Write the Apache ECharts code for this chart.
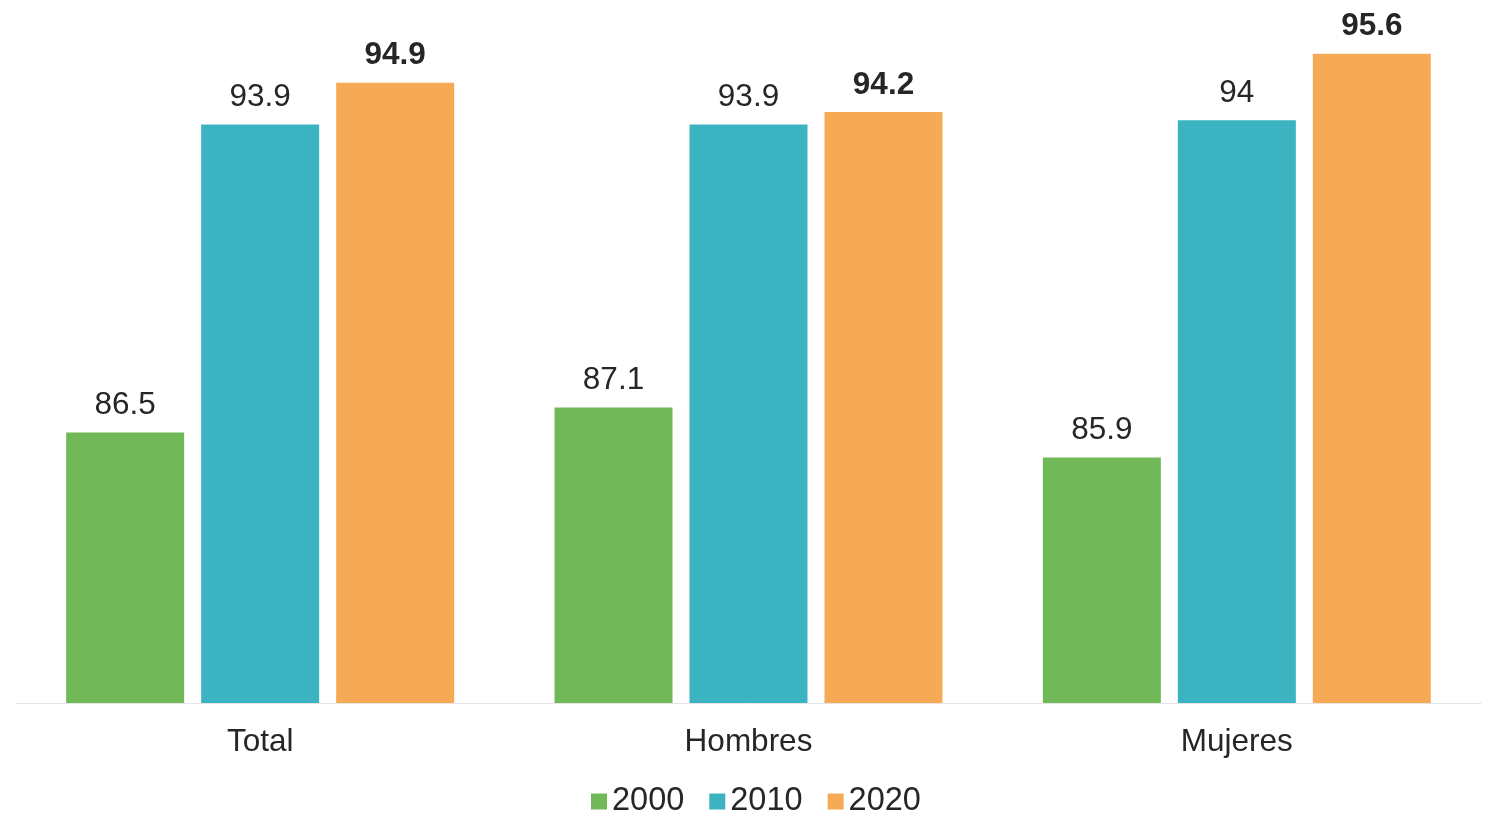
<!DOCTYPE html>
<html><head><meta charset="utf-8">
<script src="https://cdn.jsdelivr.net/npm/echarts@6/dist/echarts.min.js"></script>
<style>html,body{margin:0;padding:0;background:#fff}#c{width:1485px;height:818px}</style>
</head><body><div id="c"></div>
<script>
const categories = ['Total', 'Hombres', 'Mujeres'];
const seriesNames = ['2000', '2010', '2020'];
const values2000 = [86.5, 87.1, 85.9];
const values2010 = [93.9, 93.9, 94];
const values2020 = [94.9, 94.2, 95.6];
const colors = ['#71b858', '#3bb3c1', '#f6aa55'];

const font = 'Liberation Sans, Arial, sans-serif';
function mk(name, data, color, bold) {
  return {
    name, type: 'bar', data, barWidth: 118, barGap: '14.4%',
    itemStyle: { color },
    label: { show: true, position: 'top', distance: 11, color: '#262626',
      fontFamily: font, fontSize: 31.5, fontWeight: bold ? 'bold' : 'normal' }
  };
}
const chart = echarts.init(document.getElementById('c'));
chart.setOption({
  animation: false,
  grid: { left: 16, right: 4, top: 37, bottom: 115, containLabel: false },
  legend: { bottom: 0, left: 591, padding: 0, itemWidth: 16, itemHeight: 16, itemGap: 25,
    icon: 'rect', textStyle: { fontFamily: font, fontSize: 32.5, color: '#262626' },
    data: seriesNames },
  xAxis: { type: 'category', data: categories,
    axisLine: { lineStyle: { color: '#e4e4e4', width: 1 } }, axisTick: { show: false },
    axisLabel: { fontFamily: font, fontSize: 31.5, color: '#262626', margin: 23 } },
  yAxis: { type: 'value', min: 80, max: 96, show: false, splitLine: { show: false } },
  series: [
    mk(seriesNames[0], values2000, colors[0], false),
    mk(seriesNames[1], values2010, colors[1], false),
    mk(seriesNames[2], values2020, colors[2], true)
  ]
});
</script></body></html>
